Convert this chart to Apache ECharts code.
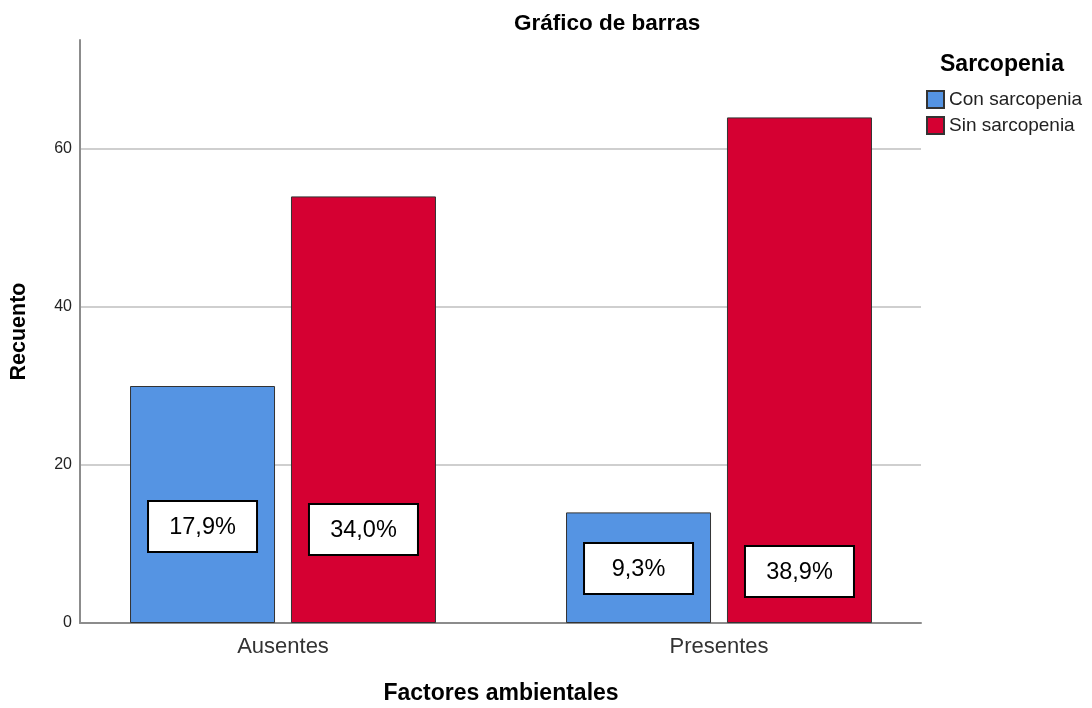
<!DOCTYPE html>
<html>
<head>
<meta charset="utf-8">
<script src="https://cdn.jsdelivr.net/npm/echarts@6/dist/echarts.min.js"></script>
<style>
  html, body { margin: 0; padding: 0; background: #fff; }
  #chart { width: 1092px; height: 708px; }
</style>
</head>
<body>
<div id="chart"></div>
<script>
// Factor categories on the x axis
const categories = ['Ausentes', 'Presentes'];
// Group names shown in the legend
const seriesNames = ['Con sarcopenia', 'Sin sarcopenia'];
// Counts (Recuento) per group and category
const conSarcopenia = [30, 14];
const sinSarcopenia = [54, 64];
// Percentage labels printed inside each bar
const conLabels = ['17,9%', '9,3%'];
const sinLabels = ['34,0%', '38,9%'];
// Y axis range and step
const yMin = 0, yMax = 73.8, yStep = 20;

const FONT = '"Liberation Sans", Arial, sans-serif';
const colors = ['#5594e3', '#d50032'];

// distance of each percentage box from the bar base, per category
const conLift = [72, 30];
const sinLift = [69, 27];

function barData(values, labels, lift) {
  return values.map((v, i) => ({
    value: v,
    label: {
      show: true,
      position: 'insideBottom',
      distance: lift[i],
      formatter: labels[i],
      fontFamily: FONT,
      fontSize: 23.5,
      lineHeight: 27,
      color: '#000',
      backgroundColor: '#fff',
      borderColor: '#000',
      borderWidth: 2,
      padding: [12, 20, 10, 20],
      width: 67,
      align: 'center'
    }
  }));
}

const chart = echarts.init(document.getElementById('chart'), null, { renderer: 'canvas' });

chart.setOption({
  animation: false,
  backgroundColor: '#fff',
  title: [
    { text: 'Gráfico de barras', left: 514, top: 12, padding: 0,
      textStyle: { fontFamily: FONT, fontSize: 22.5, fontWeight: 'bold', color: '#000' } },
    { text: 'Sarcopenia', left: 940, top: 53, padding: 0,
      textStyle: { fontFamily: FONT, fontSize: 23, fontWeight: 'bold', color: '#000' } }
  ],
  legend: {
    data: seriesNames,
    orient: 'vertical',
    left: 926,
    top: 90,
    padding: 0,
    itemWidth: 17,
    itemHeight: 17,
    itemGap: 7,
    icon: 'rect',
    textStyle: { fontFamily: FONT, fontSize: 19, color: '#222' }
  },
  grid: [
    { left: 80, top: 40, width: 841, height: 583, outerBoundsMode: 'none', containLabel: false },
    { left: 65, top: 40, width: 872, height: 583, outerBoundsMode: 'none', containLabel: false }
  ],
  xAxis: [
    {
      type: 'category', gridIndex: 0, data: categories,
      axisLine: { show: true, lineStyle: { color: '#8c8c8c', width: 2 } },
      axisTick: { show: false }, axisLabel: { show: false }
    },
    {
      type: 'category', gridIndex: 1, data: categories,
      name: 'Factores ambientales', nameLocation: 'middle', nameGap: 59,
      nameTextStyle: { fontFamily: FONT, fontSize: 23, fontWeight: 'bold', color: '#000' },
      axisLine: { show: false }, axisTick: { show: false },
      axisLabel: { fontFamily: FONT, fontSize: 22, color: '#333', margin: 13 }
    }
  ],
  yAxis: [
    {
      type: 'value', gridIndex: 0, min: yMin, max: yMax, interval: yStep,
      name: 'Recuento', nameLocation: 'middle', nameGap: 50,
      nameTextStyle: { fontFamily: FONT, fontSize: 21.5, fontWeight: 'bold', color: '#000' },
      axisLine: { show: true, lineStyle: { color: '#8c8c8c', width: 2 } },
      axisTick: { show: false },
      axisLabel: { fontFamily: FONT, fontSize: 16, color: '#222', margin: 8, padding: [4, 0, 0, 0], showMaxLabel: false },
      splitLine: { show: true, showMinLine: false, showMaxLine: false, lineStyle: { color: '#cfcfcf', width: 2 } }
    },
    {
      type: 'value', gridIndex: 1, min: yMin, max: yMax, interval: yStep, show: false,
      splitLine: { show: false }
    }
  ],
  series: [
    {
      name: seriesNames[0], type: 'bar', xAxisIndex: 1, yAxisIndex: 1,
      barWidth: 145, barGap: '11%',
      itemStyle: { color: colors[0], borderColor: '#333', borderWidth: 1 },
      data: barData(conSarcopenia, conLabels, conLift)
    },
    {
      name: seriesNames[1], type: 'bar', xAxisIndex: 1, yAxisIndex: 1,
      barWidth: 145, barGap: '11%',
      itemStyle: { color: colors[1], borderColor: '#333', borderWidth: 1 },
      data: barData(sinSarcopenia, sinLabels, sinLift)
    }
  ]
});
</script>
</body>
</html>
